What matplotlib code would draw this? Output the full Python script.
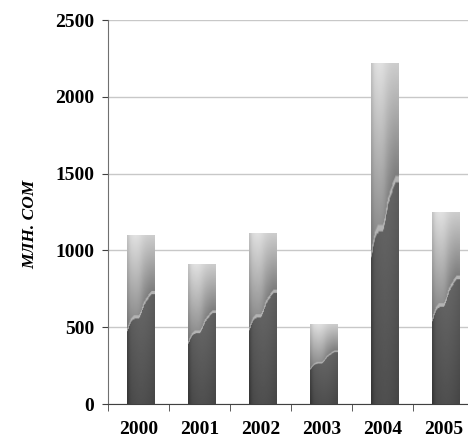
import numpy as np
import matplotlib
matplotlib.use("Agg")
import matplotlib.pyplot as plt

# Data
years = ['2000', '2001', '2002', '2003', '2004', '2005']
values = [1100, 905, 1113, 520, 2220, 1250]
y_ticks = [0, 500, 1000, 1500, 2000, 2500]
y_label = 'МЛН. СОМ'

plt.rcParams['font.family'] = ['Liberation Serif', 'DejaVu Serif']


def barTexture(nx=30, ny=160):
    # grey gradient with a light wavy band, like the old Excel texture fill
    u = np.linspace(0, 1, nx)[None, :]
    v = np.linspace(0, 1, ny)[:, None]
    b = 0.44 + 0.22 * u + 0.025 * np.sin(u * 3 * np.pi) + 0.03 * np.exp(-((u - 0.6) / 0.12) ** 2)
    dark = 0.27 + 0.15 * v + 0.04 * np.sin(u * np.pi)
    light = 0.48 + 0.32 * ((v - b) / (1 - b + 1e-6)) + 0.08 * np.exp(-((u - 0.3) / 0.3) ** 2)
    img = np.where(v < b, dark, light)
    band = np.abs(v - b) < 0.01
    img = np.where(band, 0.7, img)
    img = img - 0.06 * np.exp(-(u / 0.08) ** 2)
    return np.clip(img, 0, 1)


fig = plt.figure(figsize=(4.68, 4.37), dpi=100)
# axis runs past the right edge of the picture, as in the original
ax = fig.add_axes([0.2308, 0.0755, 0.782, 0.8787])

x = np.arange(len(years))
width = 0.45
bars = ax.bar(x + 0.04, values, width, color='none', zorder=3)
tex = barTexture()
for rect, val in zip(bars, values):
    x0 = rect.get_x()
    ax.imshow(tex, cmap='gray', vmin=0, vmax=1, origin='lower', aspect='auto',
              extent=[x0, x0 + rect.get_width(), 0, val], zorder=3, interpolation='bilinear')

ax.set_xlim(-0.5, len(years) - 0.5)
ax.set_ylim(0, 2500)
ax.set_yticks(y_ticks)
ax.set_yticklabels([str(t) for t in y_ticks], fontsize=14, fontweight='bold')
ax.set_xticks(x)
ax.set_xticklabels(years, fontsize=14, fontweight='bold')
ax.set_xticks(np.arange(-0.5, len(years)), minor=True)
ax.tick_params(axis='x', which='major', length=0, pad=12)
ax.tick_params(axis='x', which='minor', length=5, color='#404040', direction='out')
ax.tick_params(axis='y', length=4, color='#404040', pad=6)

ax.grid(axis='y', color='#c8c8c8', linewidth=1, zorder=0)
ax.set_axisbelow(True)
for s in ['top', 'right']:
    ax.spines[s].set_visible(False)
ax.spines['left'].set_color('#707070')
ax.spines['bottom'].set_color('#404040')

ax.set_ylabel(y_label, fontsize=12.5, fontweight='bold', fontstyle='italic')
ax.yaxis.set_label_coords(-0.19, 0.469)

fig.savefig('out.png', dpi=100)
